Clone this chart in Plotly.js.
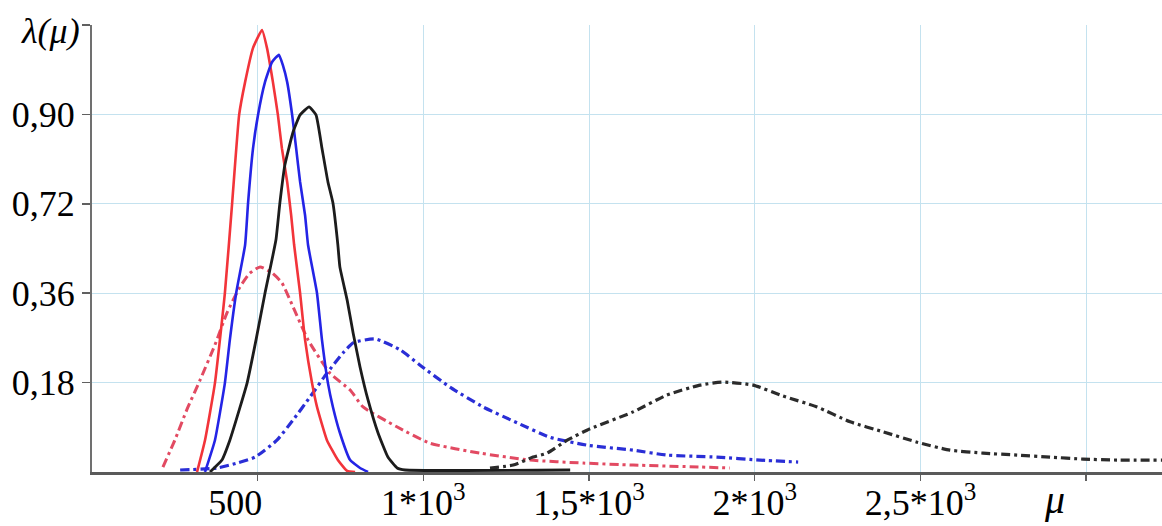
<!DOCTYPE html>
<html>
<head>
<meta charset="utf-8">
<script src="https://cdn.plot.ly/plotly-3.0.1.min.js"></script>
<style>
  html, body { margin: 0; padding: 0; background: #ffffff; }
  #chart { width: 1162px; height: 526px; }
</style>
</head>
<body>
<div id="chart"></div>
<script>
// ---- data ----
const xTickVals = [500, 1000, 1500, 2000, 2500, 3000];
const xTickText = ["500\u00a0\u00a0\u00a0\u00a0\u00a0", "1*10<sup>3</sup>", "1,5*10<sup>3</sup>", "2*10<sup>3</sup>", "2,5*10<sup>3</sup>", " "];
const yTickVals = [0.18, 0.36, 0.54, 0.72, 0.90];
const yTickText = ["0,18", "0,36", "0,72", "0,90", " "];
const yAxisLabel = "λ(μ)";
const xAxisLabel = "μ";

const redSolidX = [317, 341, 371, 401, 423, 444, 462, 486, 513, 528, 546, 561, 573, 589, 601, 610, 628, 643, 664, 679, 709, 742, 770, 794];
const redSolidY = [0, 0.064, 0.179, 0.360, 0.542, 0.719, 0.785, 0.854, 0.890, 0.854, 0.785, 0.719, 0.652, 0.584, 0.517, 0.457, 0.360, 0.266, 0.179, 0.131, 0.064, 0.024, 0.002, 0];

const blueSolidX = [341, 371, 401, 416, 435, 462, 471, 486, 501, 522, 543, 564, 576, 589, 604, 616, 628, 643, 652, 679, 694, 712, 727, 748, 779, 809, 833];
const blueSolidY = [0, 0.064, 0.179, 0.266, 0.360, 0.457, 0.542, 0.652, 0.719, 0.785, 0.825, 0.840, 0.819, 0.785, 0.719, 0.652, 0.584, 0.517, 0.457, 0.360, 0.266, 0.179, 0.131, 0.079, 0.024, 0.008, 0];

const blackSolidX = [356, 392, 416, 447, 468, 495, 522, 555, 567, 582, 607, 628, 655, 676, 694, 712, 727, 742, 748, 770, 788, 809, 833, 863, 893, 921, 945, 1443];
const blackSolidY = [0, 0.024, 0.064, 0.131, 0.179, 0.266, 0.360, 0.467, 0.542, 0.618, 0.685, 0.719, 0.735, 0.719, 0.652, 0.584, 0.542, 0.457, 0.413, 0.346, 0.280, 0.211, 0.145, 0.079, 0.030, 0.008, 0.004, 0.004];

const redDashX = [214, 250, 286, 326, 371, 407, 446, 476, 507, 543, 573, 607, 652, 718, 779, 818, 920, 1020, 1171, 1322, 1482, 1633, 1835, 1925];
const redDashY = [0.010, 0.064, 0.125, 0.185, 0.256, 0.320, 0.372, 0.400, 0.413, 0.401, 0.381, 0.332, 0.266, 0.199, 0.165, 0.131, 0.091, 0.058, 0.038, 0.024, 0.018, 0.014, 0.010, 0.008];

const blueDashX = [266, 377, 438, 492, 558, 607, 658, 709, 758, 788, 854, 930, 990, 1080, 1180, 1283, 1382, 1494, 1633, 1735, 1886, 2016, 2131];
const blueDashY = [0.004, 0.008, 0.018, 0.030, 0.064, 0.105, 0.151, 0.199, 0.240, 0.260, 0.268, 0.246, 0.215, 0.171, 0.131, 0.099, 0.070, 0.054, 0.044, 0.034, 0.030, 0.024, 0.020];

const blackDashX = [1201, 1271, 1331, 1373, 1434, 1503, 1633, 1735, 1835, 1904, 1995, 2085, 2188, 2288, 2387, 2490, 2589, 2689, 2792, 2891, 2991, 3093, 3229];
const blackDashY = [0.008, 0.014, 0.030, 0.038, 0.064, 0.087, 0.121, 0.155, 0.175, 0.181, 0.175, 0.153, 0.131, 0.101, 0.081, 0.060, 0.044, 0.038, 0.034, 0.030, 0.026, 0.024, 0.024];

// ---- styling ----
const dashDot = "9px,4px,3px,4px";
function trace(x, y, color, width, dash, smooth) {
  return {
    x: x, y: y, type: "scatter", mode: "lines",
    line: {color: color, width: width, dash: dash, shape: "spline", smoothing: smooth},
    hoverinfo: "skip", showlegend: false
  };
}
const data = [
  trace(redDashX, redDashY, "#e24a62", 3, dashDot, 0.5),
  trace(blueDashX, blueDashY, "#2a2ed6", 3.2, dashDot, 0.5),
  trace(blackDashX, blackDashY, "#2b2b2b", 3.2, dashDot, 0.5),
  trace(redSolidX, redSolidY, "#f2343a", 2.6, "solid", 0.4),
  trace(blueSolidX, blueSolidY, "#2424e6", 2.6, "solid", 0.4),
  trace(blackSolidX, blackSolidY, "#1c1c1c", 2.8, "solid", 0.4)
];

const font = {family: "Liberation Serif, Times New Roman, serif", color: "#000000", size: 36};

const layout = {
  width: 1162, height: 526,
  margin: {l: 92, r: 0, t: 25, b: 54, pad: 0},
  paper_bgcolor: "#ffffff", plot_bgcolor: "#ffffff",
  font: font,
  showlegend: false,
  xaxis: {
    range: [0, 3229], showgrid: true, gridcolor: "#c4e2ef", gridwidth: 1,
    zeroline: false, showline: true, linecolor: "#5a5a5a", linewidth: 2.5,
    ticks: "outside", ticklen: 6, tickcolor: "#606060", tickwidth: 1.5,
    tickvals: xTickVals, ticktext: xTickText, tickfont: font,
    ticklabelstandoff: -9
  },
  yaxis: {
    range: [0, 0.9], showgrid: true, gridcolor: "#c4e2ef", gridwidth: 1,
    zeroline: false, showline: true, linecolor: "#707070", linewidth: 2,
    ticks: "outside", ticklen: 8, tickcolor: "#606060", tickwidth: 1.5,
    tickvals: yTickVals, ticktext: yTickText, tickfont: font,
    ticklabelstandoff: 0
  },
  annotations: [
    {xref: "paper", yref: "y", x: 0, y: 0.9, xanchor: "right", yanchor: "middle",
     xshift: -10, yshift: -6, showarrow: false, text: "<i>" + yAxisLabel + "</i>",
     font: {family: "Liberation Serif, serif", size: 36, color: "#000"}},
    {xref: "x", yref: "paper", x: 2906, y: 0, xanchor: "center", yanchor: "top",
     yshift: -3, showarrow: false, text: "<i>" + xAxisLabel + "</i>",
     font: {family: "Liberation Serif, serif", size: 40, color: "#000"}}
  ]
};

Plotly.newPlot("chart", data, layout, {staticPlot: true, displayModeBar: false});
</script>
</body>
</html>
